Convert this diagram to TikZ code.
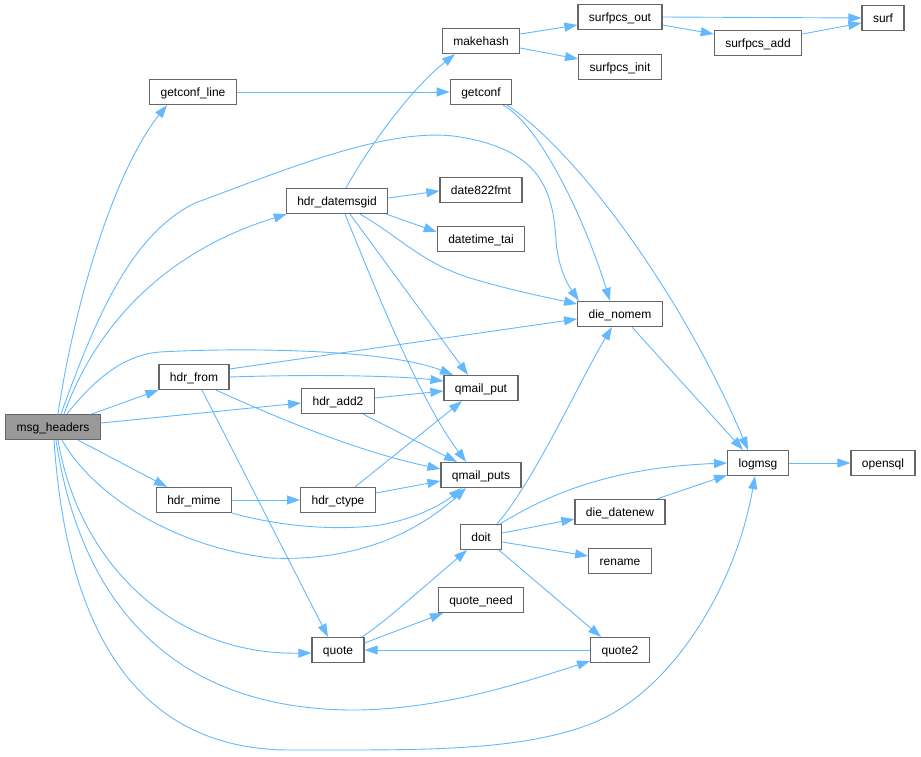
\documentclass[tikz,border=0pt]{standalone}
\usepackage{fontspec}
\setmainfont{Liberation Sans}
\usetikzlibrary{arrows.meta,backgrounds}
\definecolor{edgeblue}{HTML}{63B8FF}
\definecolor{boxgray}{HTML}{666666}
\definecolor{rootgray}{HTML}{999999}
\begin{document}
\begin{tikzpicture}[x=1pt,y=-1pt,
 fn/.style={draw=boxgray,line width=1.2pt,fill=white,minimum height=25pt,inner xsep=11pt,inner ysep=0pt,text height=12pt,text depth=2.5pt,font=\fontsize{12}{14}\selectfont},
 root/.style={fn,fill=rootgray},
 call/.style={draw=edgeblue,line width=0.9pt,-{Triangle[length=13pt,width=9pt]}}]
 \useasboundingbox (0,0) rectangle (921,757); %画面の大きさ
 % 関数の箱
 \node[root] (msg) at (53,427) {msg\_headers}; %起点
 \node[fn] (getconfline) at (193,92) {getconf\_line};
 \node[fn] (hdrfrom) at (194,377) {hdr\_from};
 \node[fn] (hdrmime) at (194,500) {hdr\_mime};
 \node[fn] (hdrdatemsgid) at (337,201) {hdr\_datemsgid};
 \node[fn] (hdradd) at (338,401) {hdr\_add2};
 \node[fn] (hdrctype) at (338,500) {hdr\_ctype};
 \node[fn] (quote) at (338,650) {quote};
 \node[fn] (makehash) at (481,41) {makehash};
 \node[fn] (getconf) at (481,92) {getconf};
 \node[fn] (date822) at (481,190) {date822fmt};
 \node[fn] (datetime) at (481,239) {datetime\_tai};
 \node[fn] (qput) at (481,388) {qmail\_put};
 \node[fn] (qputs) at (481,475) {qmail\_puts};
 \node[fn] (doit) at (481,537) {doit};
 \node[fn] (quoteneed) at (481,600) {quote\_need};
 \node[fn] (surfout) at (620,17) {surfpcs\_out};
 \node[fn] (surfinit) at (620,67) {surfpcs\_init};
 \node[fn] (dienomem) at (620,314) {die\_nomem};
 \node[fn] (diedatenew) at (620,512) {die\_datenew};
 \node[fn] (rename) at (620,561) {rename};
 \node[fn] (quote2) at (620,650) {quote2};
 \node[fn] (surfadd) at (758,43) {surfpcs\_add};
 \node[fn] (logmsg) at (758,463) {logmsg};
 \node[fn] (surf) at (883,18) {surf};
 \node[fn] (opensql) at (883,463) {opensql};
 \begin{scope}[on background layer] %矢印は箱の下に
 % msg_headers からの呼び出し（上側）
 \draw[call] ([xshift=5pt]msg.north) .. controls (75,300) and (115,170) .. ([xshift=-26pt]getconfline.south);
 \draw[call] ([xshift=8pt]msg.north) .. controls (95,320) and (130,235) .. (195,203) .. controls (280,172) and (390,125) .. (460,137) .. controls (540,150) and (553,190) .. (556,240) .. controls (558,270) and (570,288) .. ([xshift=-41pt]dienomem.north);
 \draw[call] ([xshift=11pt]msg.north) .. controls (98,320) and (170,250) .. ([xshift=1pt]hdrdatemsgid.south west);
 \draw[call] ([xshift=14pt]msg.north) .. controls (90,385) and (120,355) .. (160,352) .. controls (250,347) and (390,350) .. ([xshift=-28pt]qput.north);
 \draw[call] ([xshift=39pt]msg.north) -- (hdrfrom.south west);
 \draw[call] ([yshift=4pt]msg.east) -- ([yshift=-2pt]hdradd.west);
 \draw[call] ([xshift=25pt]msg.south) -- ([xshift=-27pt]hdrmime.north);
 % msg_headers からの呼び出し（下側）
 \draw[call] ([xshift=9pt]msg.south) .. controls (90,490) and (165,545) .. (270,558) .. controls (360,562) and (420,530) .. ([xshift=-15pt]qputs.south);
 \draw[call] ([xshift=5pt]msg.south) .. controls (78,560) and (170,655) .. ([yshift=-3pt]quote.west);
 \draw[call] ([xshift=3pt]msg.south) .. controls (80,600) and (170,712) .. (360,710) .. controls (450,708) and (530,680) .. ([yshift=2pt]quote2.south west);
 \draw[call] ([xshift=1pt]msg.south) .. controls (68,650) and (150,750) .. (290,750) .. controls (420,750) and (520,752) .. (593,723) .. controls (670,692) and (735,590) .. ([xshift=-3pt]logmsg.south);
 % hdr_from
 \draw[call] ([yshift=8pt]hdrfrom.east) -- ([yshift=-5pt]dienomem.west);
 \draw[call] (hdrfrom.east) .. controls (320,374) and (400,376) .. ([yshift=7pt]qput.west);
 \draw[call] ([xshift=22pt]hdrfrom.south) .. controls (260,410) and (350,450) .. ([yshift=6pt]qputs.west);
 \draw[call] ([xshift=8pt]hdrfrom.south) -- ([xshift=-10pt]quote.north);
 % hdr_mime
 \draw[call] (hdrmime) -- (hdrctype);
 \draw[call] (hdrmime.south east) .. controls (270,524) and (330,532) .. (380,525) .. controls (420,518) and (445,502) .. ([xshift=-19pt]qputs.south);
 % hdr_add2, hdr_ctype
 \draw[call] ([yshift=3pt]hdradd.east) -- ([yshift=-3pt]qput.west);
 \draw[call] ([xshift=25pt]hdradd.south) -- ([xshift=-24pt]qputs.north);
 \draw[call] ([xshift=17pt]hdrctype.north) -- ([xshift=-19pt]qput.south);
 \draw[call] ([yshift=7pt]hdrctype.east) -- ([yshift=-6pt]qputs.west);
 % hdr_datemsgid
 \draw[call] ([xshift=9pt]hdrdatemsgid.north) .. controls (370,145) and (410,90) .. ([xshift=-26pt]makehash.south);
 \draw[call] ([yshift=3pt]hdrdatemsgid.east) -- ([yshift=-1pt]date822.west);
 \draw[call] ([xshift=-2pt]hdrdatemsgid.south east) -- ([yshift=7pt]datetime.west);
 \draw[call] ([xshift=23pt]hdrdatemsgid.south) .. controls (400,237) and (420,262) .. (470,278) .. controls (510,290) and (545,297) .. ([yshift=10pt]dienomem.west);
 \draw[call] ([xshift=13pt]hdrdatemsgid.south) -- ([xshift=-13pt]qput.north);
 \draw[call] ([xshift=8pt]hdrdatemsgid.south) .. controls (380,300) and (420,400) .. ([xshift=-15pt]qputs.north);
 % getconf_line, getconf
 \draw[call] (getconfline) -- (getconf);
 \draw[call] ([xshift=22pt]getconf.south) .. controls (540,125) and (585,220) .. ([xshift=-10pt]dienomem.north);
 \draw[call] ([xshift=26pt]getconf.south) .. controls (575,150) and (680,290) .. ([xshift=-10pt]logmsg.north);
 % makehash, surfpcs
 \draw[call] ([yshift=7pt]makehash.east) -- ([yshift=-8pt]surfout.west);
 \draw[call] ([yshift=-7pt]makehash.east) -- ([yshift=8pt]surfinit.west);
 \draw[call] (surfout.east) -- (surf.west);
 \draw[call] ([yshift=-8pt]surfout.east) -- ([yshift=9pt]surfadd.west);
 \draw[call] ([yshift=9pt]surfadd.east) -- ([yshift=-5pt]surf.west);
 % die_nomem, logmsg
 \draw[call] ([xshift=12pt]dienomem.south) -- ([xshift=-15pt]logmsg.north);
 \draw[call] (logmsg) -- (opensql);
 \draw[call] ([xshift=37pt]diedatenew.north) -- ([yshift=1pt]logmsg.south west);
 % doit
 \draw[call] ([xshift=19pt]doit.north) .. controls (540,500) and (600,468) .. (logmsg.west);
 \draw[call] ([xshift=16pt]doit.north) .. controls (535,480) and (580,380) .. ([xshift=-8pt]dienomem.south);
 \draw[call] ([yshift=4pt]doit.east) -- ([yshift=-7pt]diedatenew.west);
 \draw[call] ([yshift=-5pt]doit.east) -- ([yshift=5pt]rename.west);
 \draw[call] ([xshift=18pt]doit.south) -- ([xshift=-19pt]quote2.north);
 % quote, quote2
 \draw[call] ([xshift=24pt]quote.north) .. controls (385,622) and (420,590) .. ([xshift=-14pt]doit.south);
 \draw[call] ([yshift=7pt]quote.east) -- ([xshift=-38pt]quoteneed.south);
 \draw[call] (quote2) -- (quote);
 \end{scope}
\end{tikzpicture}
\end{document}
